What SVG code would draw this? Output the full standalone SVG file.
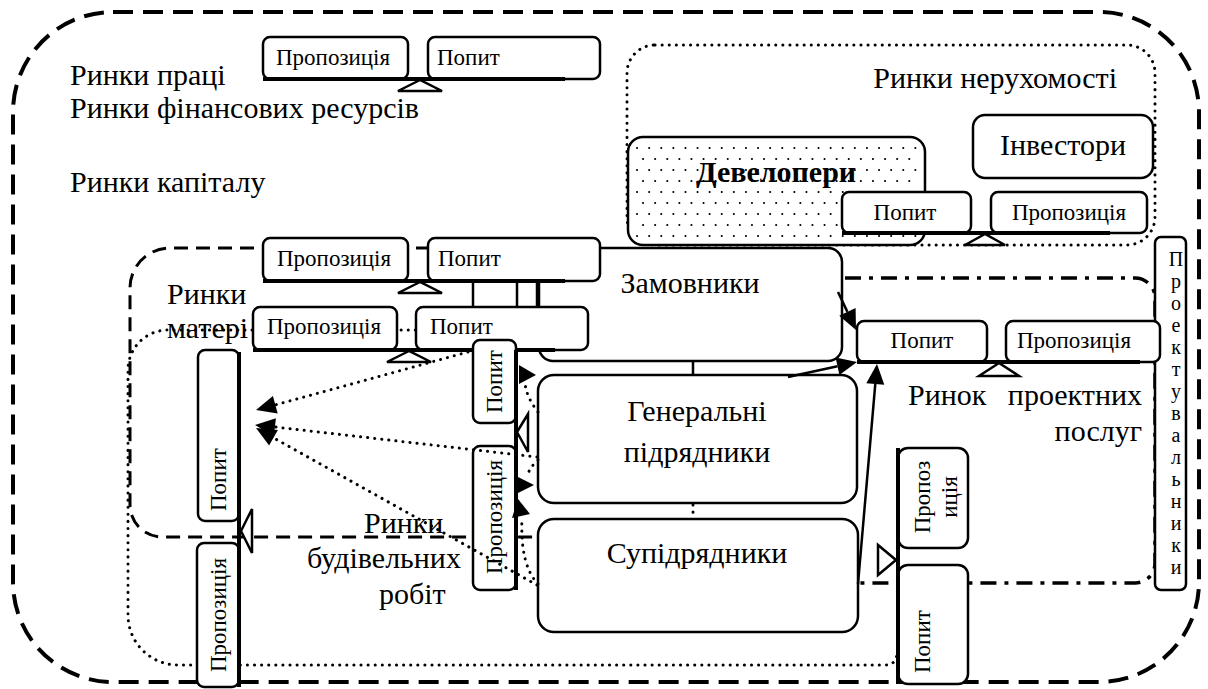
<svg xmlns="http://www.w3.org/2000/svg" width="1208" height="689" viewBox="0 0 1208 689">
<style>
text{font-family:'Liberation Serif','Times New Roman',serif !important}
.box{fill:#fff;stroke:#000;stroke-width:2.5}
.bar{stroke:#000;stroke-width:4;fill:none}
.tri{fill:#fff;stroke:#000;stroke-width:2.5}
.dot{fill:none;stroke:#000;stroke-width:3;stroke-linecap:round;stroke-dasharray:0.1 7}
.ln{fill:none;stroke:#000;stroke-width:2.5}
.ah{fill:#000;stroke:none}
</style>
<rect width="1208" height="689" fill="#fff"/>

<g id="areas">
<rect id="outer" x="13" y="12" width="1186" height="670" rx="100" fill="none" stroke="#000" stroke-width="4" stroke-dasharray="20 10"/>
<path id="materials-area" d="M540,248 H170 A40,40 0 0 0 130,288 V505 A32,32 0 0 0 162,537 H540" fill="none" stroke="#000" stroke-width="3" stroke-dasharray="14 8"/>
<path id="works-area" class="dot" d="M600,330 H168 A40,40 0 0 0 128,370 V615 A50,50 0 0 0 178,665 H885 Q897,665 897,652"/>
<path id="design-area" d="M845,278 H1135 A20,20 0 0 1 1155,298 V563 A20,20 0 0 1 1135,583 H858" fill="none" stroke="#000" stroke-width="3.5" stroke-dasharray="16 8 4 8"/>
<rect id="realty-area" class="dot" x="627" y="45" width="528" height="200" rx="28"/>
</g>

<g id="labels" font-family="Liberation Serif, Times New Roman, serif" font-size="30">
<text x="70" y="85">Ринки праці</text>
<text x="70" y="118">Ринки фінансових ресурсів</text>
<text x="70" y="192">Ринки капіталу</text>
<text x="1117" y="88" text-anchor="end">Ринки нерухомості</text>
<text x="167" y="304">Ринки</text>
<text x="167" y="338">матері</text>
<text x="364" y="533">Ринки</text>
<text x="307" y="568">будівельних</text>
<text x="379" y="604">робіт</text>
<text x="1142" y="405" text-anchor="end" word-spacing="14">Ринок проектних</text>
<text x="1142" y="441" text-anchor="end">послуг</text>
</g>

<g id="developers">
<rect x="628" y="137" width="297" height="108" rx="15" fill="#fff" stroke="#000" stroke-width="2.5"/>
<path d="M637,148 H918 M643,159 H918 M637,170 H918 M643,181 H918 M637,192 H918 M643,203 H918 M637,214 H918 M643,225 H918 M637,236 H918" fill="none" stroke="#000" stroke-width="2" stroke-linecap="round" stroke-dasharray="0.1 12"/>
<text font-family="Liberation Serif, Times New Roman, serif" font-size="30" font-weight="bold" x="776" y="182" text-anchor="middle">Девелопери</text>
</g>
<g id="investors">
<rect class="box" x="973" y="115" width="180" height="63" rx="12"/>
<text font-family="Liberation Serif, Times New Roman, serif" font-size="30" x="1063" y="155" text-anchor="middle">Інвестори</text>
</g>

<g id="customers">
<rect class="box" x="539" y="248" width="303" height="113" rx="14"/>
<text font-family="Liberation Serif, Times New Roman, serif" font-size="30" x="690" y="293" text-anchor="middle">Замовники</text>
</g>
<g id="general">
<rect class="box" x="538" y="375" width="319" height="128" rx="16"/>
<text font-family="Liberation Serif, Times New Roman, serif" font-size="30" x="697" y="421" text-anchor="middle">Генеральні</text>
<text font-family="Liberation Serif, Times New Roman, serif" font-size="30" x="697" y="462" text-anchor="middle">підрядники</text>
</g>
<g id="subcontractors">
<rect class="box" x="538" y="519" width="320" height="113" rx="16"/>
<text font-family="Liberation Serif, Times New Roman, serif" font-size="30" x="697" y="563" text-anchor="middle">Супідрядники</text>
</g>

<g id="designers" font-family="Liberation Serif, Times New Roman, serif" font-size="20" text-anchor="middle">
<rect class="box" x="1155" y="237" width="31" height="353" rx="6"/>
<text x="1176" y="266">П</text>
<text x="1176" y="288">р</text>
<text x="1176" y="310">о</text>
<text x="1176" y="332">е</text>
<text x="1176" y="354">к</text>
<text x="1176" y="376">т</text>
<text x="1176" y="398">у</text>
<text x="1176" y="420">в</text>
<text x="1176" y="442">а</text>
<text x="1176" y="464">л</text>
<text x="1176" y="486">ь</text>
<text x="1176" y="508">н</text>
<text x="1176" y="530">и</text>
<text x="1176" y="552">к</text>
<text x="1176" y="574">и</text>
</g>

<g id="balance-top" font-family="Liberation Serif, Times New Roman, serif" font-size="23">
<rect class="box" x="263" y="37" width="145" height="42" rx="7"/>
<text x="276" y="65">Пропозиція</text>
<rect class="box" x="428" y="37" width="172" height="42" rx="7"/>
<text x="437" y="65">Попит</text>
<line class="bar" x1="263" y1="79" x2="565" y2="79"/>
<polygon class="tri" points="420,80 398,91 442,91"/>
</g>

<g id="balance-materials" font-family="Liberation Serif, Times New Roman, serif" font-size="23">
<rect class="box" x="263" y="238" width="145" height="43" rx="7"/>
<text x="277" y="266">Пропозиція</text>
<rect class="box" x="428" y="238" width="172" height="43" rx="7"/>
<text x="438" y="266">Попит</text>
<line class="bar" x1="263" y1="281" x2="565" y2="281"/>
<polygon class="tri" points="420,282 398,293 442,293"/>
</g>

<g id="balance-works" font-family="Liberation Serif, Times New Roman, serif" font-size="23">
<rect class="box" x="253" y="307" width="144" height="43" rx="7"/>
<text x="267" y="334">Пропозиція</text>
<rect class="box" x="416" y="307" width="172" height="43" rx="7"/>
<text x="430" y="334">Попит</text>
<line class="bar" x1="253" y1="350" x2="555" y2="350"/>
<polygon class="tri" points="409,351 387,362 431,362"/>
</g>

<g id="balance-realty" font-family="Liberation Serif, Times New Roman, serif" font-size="23">
<rect class="box" x="842" y="192" width="129" height="41" rx="7"/>
<text x="905" y="220" text-anchor="middle">Попит</text>
<rect class="box" x="991" y="192" width="156" height="41" rx="7"/>
<text x="1069" y="220" text-anchor="middle">Пропозиція</text>
<line class="bar" x1="842" y1="233" x2="1110" y2="233"/>
<polygon class="tri" points="985,234 965,245 1005,245"/>
</g>

<g id="balance-design" font-family="Liberation Serif, Times New Roman, serif" font-size="23">
<rect class="box" x="857" y="321" width="130" height="41" rx="7"/>
<text x="922" y="348" text-anchor="middle">Попит</text>
<rect class="box" x="1006" y="321" width="154" height="41" rx="7"/>
<text x="1074" y="348" text-anchor="middle">Пропозиція</text>
<line class="bar" x1="857" y1="362" x2="1140" y2="362"/>
<polygon class="tri" points="999,363 979,376 1019,376"/>
</g>

<g id="balance-left-vertical" font-family="Liberation Serif, Times New Roman, serif" font-size="23">
<rect class="box" x="198" y="350" width="41" height="171" rx="7"/>
<text transform="translate(226,511) rotate(-90)">Попит</text>
<rect class="box" x="197" y="543" width="42" height="144" rx="7"/>
<text transform="translate(226,615) rotate(-90)" text-anchor="middle">Пропозиція</text>
<line class="bar" x1="239" y1="352" x2="239" y2="687"/>
<polygon class="tri" points="241,531 252,509 252,553"/>
</g>

<g id="balance-center-vertical" font-family="Liberation Serif, Times New Roman, serif" font-size="23">
<rect class="box" x="473" y="340" width="43" height="83" rx="7"/>
<text transform="translate(502,413) rotate(-90)">Попит</text>
<rect class="box" x="473" y="446" width="43" height="144" rx="7"/>
<text transform="translate(502,517) rotate(-90)" text-anchor="middle">Пропозиція</text>
<line class="bar" x1="516" y1="350" x2="516" y2="590"/>
<polygon class="tri" points="517,432 528,414 528,452"/>
</g>

<g id="balance-right-vertical" font-family="Liberation Serif, Times New Roman, serif" font-size="23">
<rect class="box" x="898" y="448" width="70" height="100" rx="10"/>
<text transform="translate(930,497) rotate(-90)" text-anchor="middle">Пропоз</text>
<text transform="translate(957,497) rotate(-90)" text-anchor="middle">иція</text>
<rect class="box" x="898" y="565" width="70" height="119" rx="10"/>
<text transform="translate(930,673) rotate(-90)">Попит</text>
<line class="bar" x1="898" y1="448" x2="898" y2="684"/>
<polygon class="tri" points="896,560 878,545 878,575"/>
</g>

<g id="connectors">
<line class="ln" x1="473" y1="281" x2="473" y2="307"/>
<line class="ln" x1="517" y1="281" x2="517" y2="307"/>
<line class="ln" x1="537" y1="281" x2="537" y2="307"/>
<line class="ln" x1="693" y1="361" x2="693" y2="375"/>
<line class="dot" x1="693" y1="505" x2="693" y2="518"/>
<path class="dot" d="M468,352 L275,405"/>
<polygon class="ah" points="256,410 277.7,413.4 272.9,396"/>
<path class="dot" d="M537,457 L275,427"/>
<polygon class="ah" points="255,425 275.9,418.3 273.9,436.2"/>
<path class="dot" d="M537,585 L273.5,437.8"/>
<polygon class="ah" points="256,428 277.9,429.9 269.1,445.6"/>
<path class="dot" d="M538,412 Q527,398 525,384"/>
<polygon class="ah" points="519,365 536,375 519,384"/>
<path class="dot" d="M538,460 Q529,468 527,477"/>
<polygon class="ah" points="518,477 534,485 518,493"/>
<path class="dot" d="M538,584 Q520,565 522,519"/>
<polygon class="ah" points="518,499 512,518 530,514"/>
<path class="ln" d="M838,292 L847.4,311.9"/>
<polygon class="ah" points="856,330 839.3,315.8 855.6,308.1"/>
<path class="ln" d="M788,377 L837.5,366.2"/>
<polygon class="ah" points="857,362 839.4,375 835.6,357.4"/>
<path class="ln" d="M858,584 L875.3,383.9"/>
<polygon class="ah" points="877,364 884.3,384.7 866.3,383.2"/>
</g>
</svg>
